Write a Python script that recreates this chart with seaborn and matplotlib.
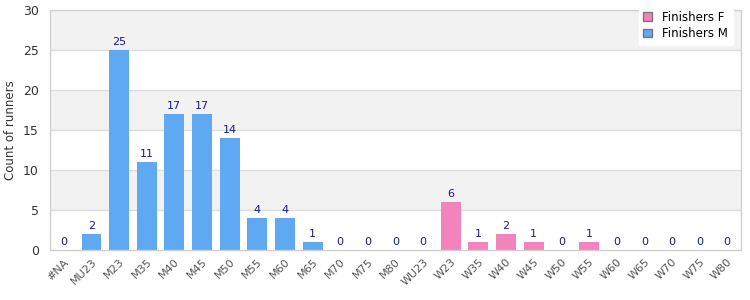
import pandas as pd
import seaborn as sns
import matplotlib.pyplot as plt
from matplotlib.patches import Patch

# categories and counts
categories_m = ["#NA", "MU23", "M23", "M35", "M40", "M45", "M50", "M55", "M60",
                "M65", "M70", "M75", "M80"]
counts_m = [0, 2, 25, 11, 17, 17, 14, 4, 4, 1, 0, 0, 0]
categories_f = ["WU23", "W23", "W35", "W40", "W45", "W50", "W55", "W60", "W65",
                "W70", "W75", "W80"]
counts_f = [0, 6, 1, 2, 1, 0, 1, 0, 0, 0, 0, 0]

color_m = "#5fa8f2"
color_f = "#f283bb"

df = pd.concat([
    pd.DataFrame({"category": categories_m, "count": counts_m, "group": "Finishers M"}),
    pd.DataFrame({"category": categories_f, "count": counts_f, "group": "Finishers F"}),
])
order = categories_m + categories_f

fig = plt.figure(figsize=(7.5, 3), dpi=100)
ax = fig.add_axes([50 / 750, 50 / 300, 691 / 750, 240 / 300])

# alternating background bands: 0-5 white, 5-10 grey, ...
for i, lo in enumerate(range(0, 30, 5)):
    ax.axhspan(lo, lo + 5, facecolor="#f2f2f2" if i % 2 == 1 else "#ffffff",
               zorder=0, lw=0)
for y in range(5, 30, 5):
    ax.axhline(y, color="#dddddd", lw=1, zorder=1)

sns.barplot(data=df, x="category", y="count", hue="group", order=order,
            hue_order=["Finishers M", "Finishers F"], dodge=False,
            palette={"Finishers M": color_m, "Finishers F": color_f},
            width=0.72, saturation=1, ax=ax, zorder=2, legend=False)

for cont in ax.containers:
    ax.bar_label(cont, fmt="%d", color="#1a1a8c", fontsize=8, padding=2)

ax.set_ylim(0, 30)
ax.set_xlim(-0.5, len(order) - 0.5)
ax.set_yticks(range(0, 31, 5))
ax.set_xlabel("")
ax.set_ylabel("Count of runners", fontsize=8.5, color="#333333")
ax.tick_params(axis="y", length=0, labelsize=9, colors="#333333", pad=8)
ax.tick_params(axis="x", length=0, labelsize=8, colors="#555555", pad=5)
plt.setp(ax.get_xticklabels(), rotation=45, ha="right", rotation_mode="anchor")
for s in ax.spines.values():
    s.set_color("#d0d0d0")
    s.set_linewidth(1)

handles = [Patch(facecolor=color_f, edgecolor="#777777", label="Finishers F"),
           Patch(facecolor=color_m, edgecolor="#777777", label="Finishers M")]
fig.legend(handles=handles, loc="upper right", bbox_to_anchor=(0.985, 1.0),
           frameon=True, fancybox=False, edgecolor="white", framealpha=1,
           fontsize=8.5, handlelength=0.7, handleheight=0.7, borderpad=0.4,
           labelspacing=0.3, handletextpad=0.9)

fig.savefig("out.png", dpi=100)
